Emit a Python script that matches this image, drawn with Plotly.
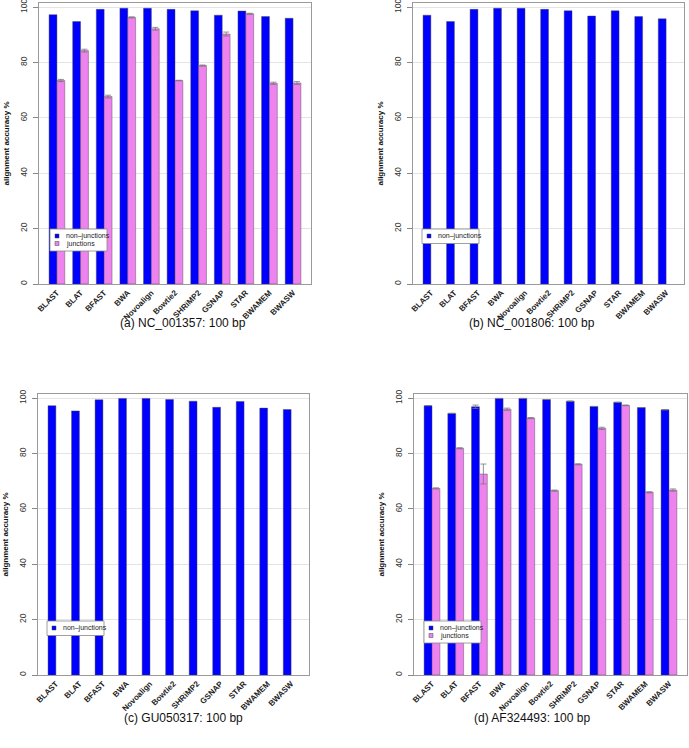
import plotly.graph_objects as go

# aligners on the x axis
aligners = ['BLAST', 'BLAT', 'BFAST', 'BWA', 'Novoalign', 'Bowtie2',
            'SHRiMP2', 'GSNAP', 'STAR', 'BWAMEM', 'BWASW']

# (a) NC_001357
nonjunc_a = [97.3, 94.8, 99.2, 99.6, 99.6, 99.2, 98.7, 97.1, 98.6, 96.6, 96.0]
junc_a = [73.5, 84.3, 67.7, 96.3, 92.2, 73.5, 78.9, 90.3, 97.6, 72.5, 72.6]
junc_a_err = [0.4, 0.5, 0.5, 0.2, 0.5, 0.1, 0.2, 0.7, 0.2, 0.4, 0.5]

# (b) NC_001806
nonjunc_b = [97.1, 94.8, 99.2, 99.6, 99.6, 99.2, 98.7, 96.8, 98.7, 96.6, 95.8]

# (c) GU050317
nonjunc_c = [97.3, 95.4, 99.4, 99.9, 99.9, 99.5, 98.9, 96.7, 98.8, 96.4, 95.9]

# (d) AF324493
nonjunc_d = [97.3, 94.5, 96.9, 99.9, 99.9, 99.5, 98.9, 97.0, 98.5, 96.6, 95.8]
nonjunc_d_err = [0, 0, 0.6, 0, 0, 0, 0, 0, 0, 0, 0]
junc_d = [67.4, 81.9, 72.6, 96.0, 92.8, 66.6, 76.1, 89.1, 97.4, 66.0, 66.8]
junc_d_err = [0.2, 0.2, 3.6, 0.4, 0.2, 0.2, 0.2, 0.4, 0.1, 0.2, 0.4]

captions = ['(a) NC_001357: 100 bp', '(b) NC_001806: 100 bp',
            '(c) GU050317: 100 bp', '(d) AF324493: 100 bp']

W, H = 689, 748
BLUE = '#0000FF'
VIOLET = '#EE82EE'
FONT = 'Liberation Sans, Arial, sans-serif'

# panel boxes in pixels: x0, x1, ytop, ybottom
boxes = [(39, 311, 3, 284), (413, 684, 3, 284),
         (38, 309, 394, 675), (414, 687, 394, 675)]
legend_pos = [(50, 229), (422, 229), (47, 621), (424, 621)]
caption_pos = [(183, 323), (532, 323), (183, 718), (532, 718)]

panels = [
    (nonjunc_a, None, junc_a, junc_a_err),
    (nonjunc_b, None, None, None),
    (nonjunc_c, None, None, None),
    (nonjunc_d, nonjunc_d_err, junc_d, junc_d_err),
]


def px(x):
    return x / W


def py(y):
    return 1 - y / H


fig = go.Figure()
layout = {}
shapes = []
annotations = []
for i, (nj, nj_err, jn, jn_err) in enumerate(panels):
    n = i + 1
    sfx = '' if n == 1 else str(n)
    bar_line = dict(color='rgba(70,70,70,0.7)', width=0.6)
    err_style = dict(type='data', color='#777777', thickness=0.8, width=3)

    fig.add_trace(go.Bar(
        x=aligners, y=nj, name='non\u2013junctions', marker_color=BLUE,
        marker_line=bar_line, xaxis='x' + sfx, yaxis='y' + sfx,
        showlegend=False,
        error_y=dict(array=nj_err, **err_style) if nj_err else None))
    if jn is not None:
        fig.add_trace(go.Bar(
            x=aligners, y=jn, name='junctions', marker_color=VIOLET,
            marker_line=bar_line, xaxis='x' + sfx, yaxis='y' + sfx,
            showlegend=False, error_y=dict(array=jn_err, **err_style)))
    else:
        # empty junction slot keeps the blue bars on the left of each group
        fig.add_trace(go.Bar(
            x=aligners, y=[None] * len(aligners), name='junctions',
            marker_color=VIOLET, xaxis='x' + sfx, yaxis='y' + sfx,
            showlegend=False))

    x0, x1, yt, yb = boxes[i]
    layout['xaxis' + sfx] = dict(
        domain=[px(x0), px(x1)], anchor='y' + sfx, range=[-0.76, 10.76],
        tickangle=-45, ticks='', showgrid=False, automargin=False,
        tickfont=dict(size=8, family=FONT, weight='bold', color='#222'),
        showline=True, linecolor='#9a9a9a', linewidth=1, mirror=True,
        zeroline=False)
    layout['yaxis' + sfx] = dict(
        domain=[py(yb), py(yt)], anchor='x' + sfx, automargin=False,
        range=[0, 101.5], tickvals=[0, 20, 40, 60, 80, 100],
        tickangle=-90, ticks='outside', ticklen=5, tickcolor='#888',
        ticklabelstandoff=3, ticklabeloverflow='allow',
        tickfont=dict(size=8.5, family=FONT, color='#333'),
        showgrid=True, gridcolor='#e4e4e4', gridwidth=1,
        showline=True, linecolor='#9a9a9a', linewidth=1, mirror=True,
        zeroline=False,
        title=dict(text='alignment accuracy %', standoff=7,
                   font=dict(size=8, family=FONT, weight='bold',
                             color='#111')))

    # small R-style legend box
    lx, ly = legend_pos[i]
    items = [('non\u2013junctions', BLUE)]
    if jn is not None:
        items.append(('junctions', VIOLET))
    lh = 7 + 7.5 * len(items)
    shapes.append(dict(type='rect', xref='paper', yref='paper',
                       x0=px(lx), x1=px(lx + 57), y0=py(ly + lh), y1=py(ly),
                       line=dict(color='#888', width=0.8),
                       fillcolor='white', layer='above'))
    for k, (lab, col) in enumerate(items):
        cy = ly + 7 + 7.5 * k
        shapes.append(dict(type='rect', xref='paper', yref='paper',
                           x0=px(lx + 5), x1=px(lx + 9),
                           y0=py(cy + 2), y1=py(cy - 2),
                           line=dict(color='#444', width=0.5),
                           fillcolor=col, layer='above'))
        annotations.append(dict(
            text=lab, x=px(lx + 14), y=py(cy), xref='paper', yref='paper',
            xanchor='left', yanchor='middle', showarrow=False,
            font=dict(size=7, family=FONT, color='#222')))

for (cx, cy), txt in zip(caption_pos, captions):
    annotations.append(dict(
        text=txt, x=px(cx), y=py(cy), xref='paper', yref='paper',
        xanchor='center', yanchor='middle', showarrow=False,
        font=dict(size=12, family=FONT, color='#111')))

fig.update_layout(
    width=W, height=H, margin=dict(l=0, r=0, t=0, b=0),
    paper_bgcolor='white', plot_bgcolor='white',
    barmode='group', bargap=1 / 3, bargroupgap=0,
    shapes=shapes, annotations=annotations, **layout)

# drop the browser's default body margin so the figure sits at (0, 0)
fig.write_html('out.html', config={'displayModeBar': False},
               post_script="document.body.style.margin='0';"
                           "document.body.style.padding='0';")
